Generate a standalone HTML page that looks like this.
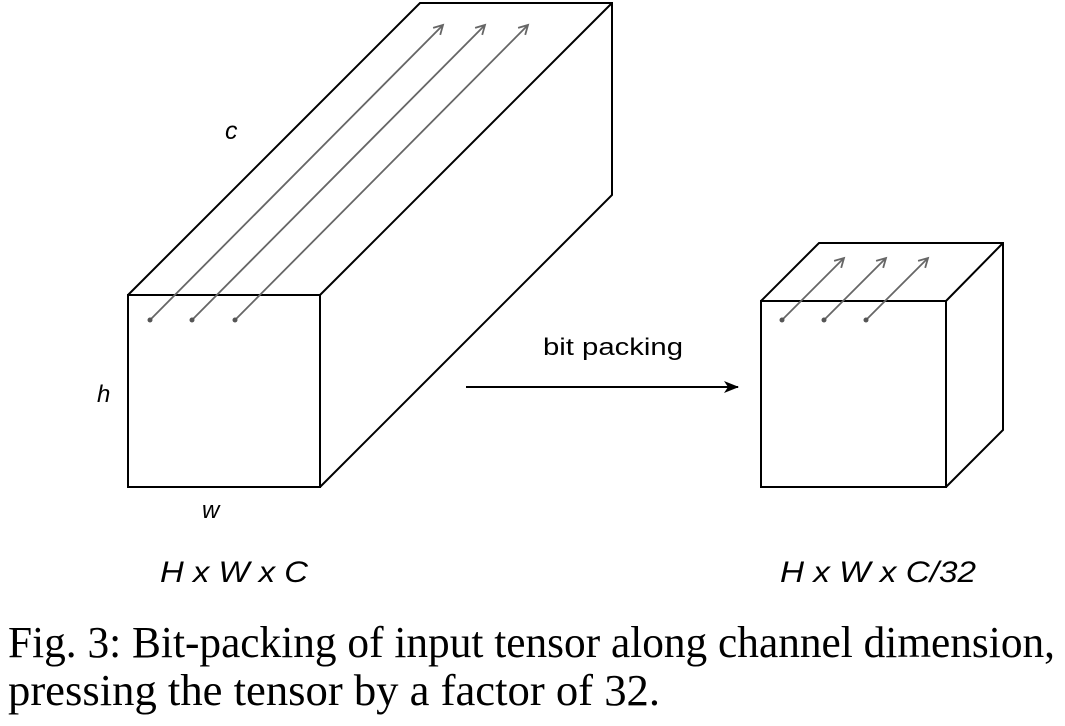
<!DOCTYPE html>
<html><head><meta charset="utf-8"><style>html,body{margin:0;padding:0;background:#fff}</style></head>
<body>
<svg width="1065" height="721" viewBox="0 0 1065 721" xmlns="http://www.w3.org/2000/svg">
<defs>
<marker id="g" markerWidth="14" markerHeight="14" refX="11" refY="7" orient="auto" markerUnits="userSpaceOnUse"><path d="M2,2 L11,7 L2,12" fill="none" stroke="#666" stroke-width="1.8"/></marker>
<marker id="b" markerWidth="16" markerHeight="16" refX="14" refY="8" orient="auto" markerUnits="userSpaceOnUse"><path d="M0,2 L15,8 L0,14 L4,8 Z" fill="#000"/></marker>
</defs>
<g fill="none" stroke="#000" stroke-width="2">
<rect x="128" y="295" width="192" height="192"/>
<path d="M128,295 L420,3 L612,3 L612,195 L320,487 M320,295 L612,3"/>
<rect x="761" y="301" width="185" height="186"/>
<path d="M761,301 L819,243 L1003,243 L1003,430 L946,487 M946,301 L1003,243"/>
<line x1="466" y1="387" x2="738" y2="387" marker-end="url(#b)"/>
</g>
<g stroke="#666" stroke-width="1.8" fill="none">
<line x1="150" y1="320" x2="443" y2="25" marker-end="url(#g)"/>
<line x1="192" y1="320" x2="485" y2="25" marker-end="url(#g)"/>
<line x1="235" y1="320" x2="528" y2="25" marker-end="url(#g)"/>
<line x1="782" y1="320" x2="844" y2="258" marker-end="url(#g)"/>
<line x1="824" y1="320" x2="886" y2="258" marker-end="url(#g)"/>
<line x1="866" y1="320" x2="928" y2="258" marker-end="url(#g)"/>
</g>
<g fill="#555"><circle cx="150" cy="320" r="2.5"/><circle cx="192" cy="320" r="2.5"/><circle cx="235" cy="320" r="2.5"/><circle cx="782" cy="320" r="2.5"/><circle cx="824" cy="320" r="2.5"/><circle cx="866" cy="320" r="2.5"/></g>
<g font-family="Liberation Sans, sans-serif" fill="#000">
<text x="225" y="139" font-size="25" font-style="italic">c</text>
<text x="97" y="402" font-size="24" font-style="italic">h</text>
<text x="202" y="518" font-size="24" font-style="italic">w</text>
<text x="543" y="355" font-size="24" textLength="140" lengthAdjust="spacingAndGlyphs">bit packing</text>
<text x="160" y="582" font-size="30" font-style="italic" textLength="148" lengthAdjust="spacingAndGlyphs">H x W x C</text>
<text x="780" y="582" font-size="30" font-style="italic" textLength="196" lengthAdjust="spacingAndGlyphs">H x W x C/32</text>
</g>
<g font-family="Liberation Serif, serif" fill="#000" font-size="44">
<text x="8" y="657" textLength="1047" lengthAdjust="spacingAndGlyphs">Fig. 3: Bit-packing of input tensor along channel dimension,</text>
<text x="8" y="705" textLength="652" lengthAdjust="spacingAndGlyphs">pressing the tensor by a factor of 32.</text>
</g>
</svg>
</body></html>
